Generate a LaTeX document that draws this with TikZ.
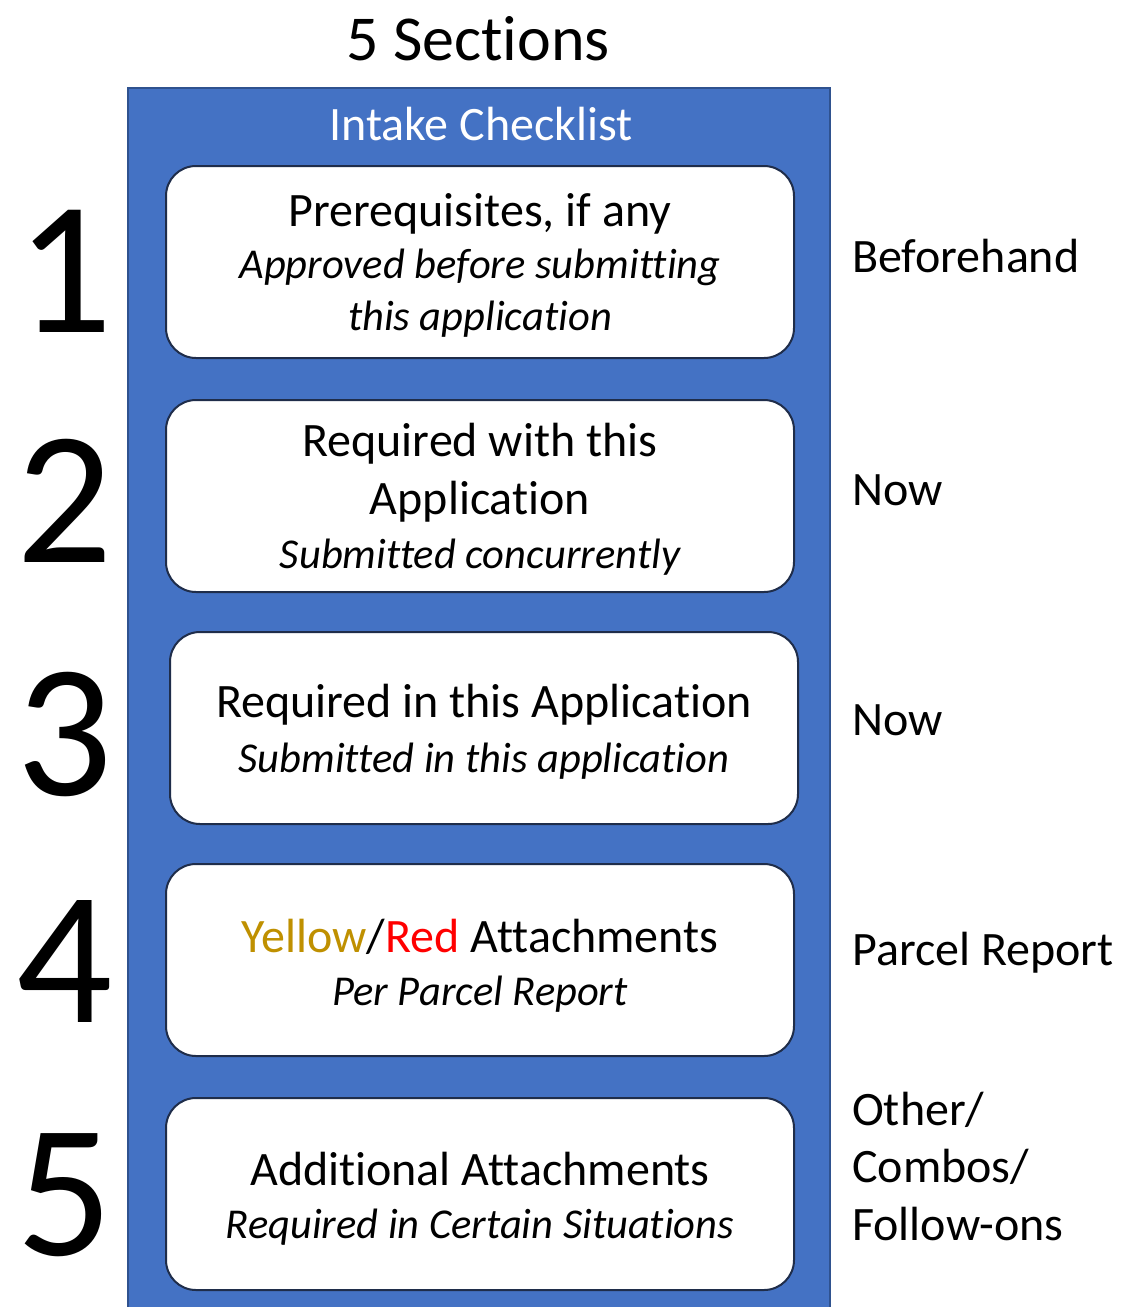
\documentclass[tikz,border=0pt]{standalone}
\usepackage{fontspec}
\setmainfont{Carlito}[Ligatures=NoCommon]
\definecolor{panel}{HTML}{4472C4}
\definecolor{panelline}{HTML}{2F528F}
\definecolor{boxline}{HTML}{1F2D4A}
\definecolor{ylw}{HTML}{BF9000}
\definecolor{rd}{HTML}{FF0000}
\tikzset{
  card/.style={draw=boxline, line width=2pt, fill=white, rounded corners=30pt},
  big/.style={anchor=base, inner sep=0pt, font=\fontsize{190}{190}\selectfont},
  lbl/.style={anchor=base west, inner sep=0pt, font=\fontsize{48}{58}\selectfont},
  txt/.style={anchor=base, inner sep=0pt, font=\fontsize{48}{52}\selectfont},
  itx/.style={anchor=base, inner sep=0pt, font=\fontsize{42.5}{52}\selectfont\itshape},
}
\begin{document}
\begin{tikzpicture}[x=1pt,y=-1pt]
\useasboundingbox (0,0) rectangle (1127,1307);
\node[anchor=base, inner sep=0pt, font=\fontsize{64}{64}\selectfont] (title) at (478,60) {5 Sections};
\fill[panel] (128,88) rectangle (830,1307);
\draw[panelline, line width=2pt] (128,1307) -- (128,88) -- (830,88) -- (830,1307);
\node[anchor=base, inner sep=0pt, text=white, font=\fontsize{48}{48}\selectfont] (head) at (481,140) {Intake Checklist};
% cards
\draw[card] (166,166) rectangle (794,358);
\draw[card] (166,400) rectangle (794,592);
\draw[card] (170,632) rectangle (798,824);
\draw[card] (166,864) rectangle (794,1056);
\draw[card] (166,1098) rectangle (794,1290);
% card texts
\node[txt] (t1a) at (480,226) {Prerequisites, if any};
\node[itx] (t1b) at (480,278) {Approved before submitting};
\node[itx] (t1c) at (480,330) {this application};
\node[txt] (t2a) at (480,456) {Required with this};
\node[txt] (t2b) at (480,514) {Application};
\node[itx] (t2c) at (480,568) {Submitted concurrently};
\node[txt] (t3a) at (484,717) {Required in this Application};
\node[itx] (t3b) at (484,772) {Submitted in this application};
\node[txt] (t4a) at (480,952) {\textcolor{ylw}{Yellow}/\textcolor{rd}{Red} Attachments};
\node[itx] (t4b) at (480,1005) {Per Parcel Report};
\node[txt] (t5a) at (480,1185) {Additional Attachments};
\node[itx] (t5b) at (480,1238) {Required in Certain Situations};
% numbers
\node[big] (n1) at (65,332) {1};
\node[big] (n2) at (65,562) {2};
\node[big] (n3) at (65,795) {3};
\node[big] (n4) at (65,1022) {4};
\node[big] (n5) at (65,1255) {5};
% right labels
\node[lbl] (r1) at (852,272) {Beforehand};
\node[lbl] (r2) at (852,505) {Now};
\node[lbl] (r3) at (852,735) {Now};
\node[lbl] (r4) at (852,965) {Parcel Report};
\node[lbl] (r5a) at (852,1125) {Other/};
\node[lbl] (r5b) at (852,1182) {Combos/};
\node[lbl] (r5c) at (852,1240) {Follow-ons};
\end{tikzpicture}
\end{document}
